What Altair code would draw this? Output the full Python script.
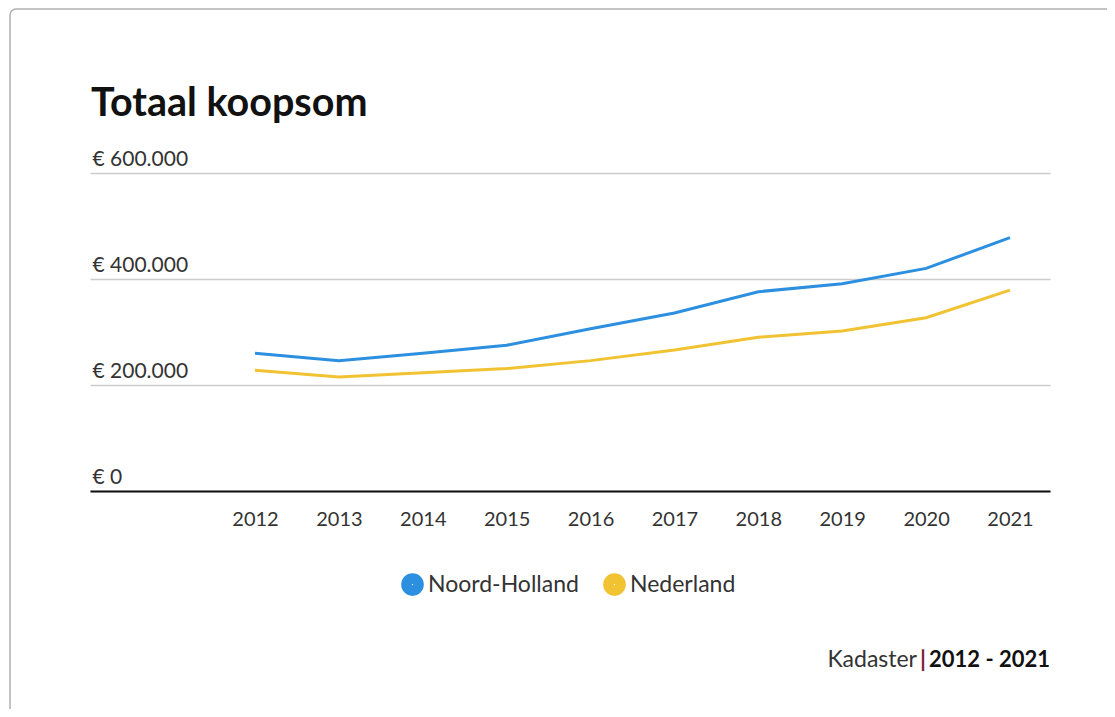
import altair as alt
import pandas as pd

years = [2012, 2013, 2014, 2015, 2016, 2017, 2018, 2019, 2020, 2021]
noord_holland = [260000, 246000, 260000, 275000, 306000, 336000, 376000, 391000, 420000, 478000]
nederland = [228000, 215000, 223000, 231000, 246000, 266000, 290000, 302000, 327000, 379000]
series = ["Noord-Holland", "Nederland"]
colors = ["#2c8fe0", "#f1c232"]
y_ticks = [0, 200000, 400000, 600000]

rows = []
for name, vals in zip(series, [noord_holland, nederland]):
    for yr, v in zip(years, vals):
        rows.append({"jaar": yr, "koopsom": v, "regio": name})
df = pd.DataFrame(rows)

FONT = "Lato"
W, H = 960, 318

base = alt.Chart(df)

lines = base.mark_line(strokeWidth=3, clip=False).encode(
    x=alt.X(
        "jaar:Q",
        scale=alt.Scale(domain=[2010.033, 2021.477], nice=False, zero=False),
        axis=alt.Axis(
            values=years, format="d", title=None, grid=False, ticks=False,
            domain=True, domainColor="#111", domainWidth=2,
            labelFont=FONT, labelFontSize=20, labelColor="#333", labelPadding=18,
        ),
    ),
    y=alt.Y(
        "koopsom:Q",
        scale=alt.Scale(domain=[0, 600000], nice=False),
        axis=alt.Axis(
            values=y_ticks, title=None, domain=False, ticks=False, grid=True,
            gridColor="#cccccc", gridWidth=1.5,
            labelExpr="'€ ' + replace(format(datum.value, ',d'), /,/g, '.')",
            labelAlign="left", labelBaseline="bottom", labelPadding=-2,
            labelOffset=-4, labelFont=FONT, labelFontSize=21, labelColor="#333",
        ),
    ),
    color=alt.Color(
        "regio:N",
        scale=alt.Scale(domain=series, range=colors),
        legend=alt.Legend(
            title=None, orient="none", legendX=311, legendY=400, direction="horizontal",
            symbolType="circle", symbolSize=113.1, symbolStrokeWidth=12,
            labelFont=FONT, labelFontSize=23, labelColor="#333",
            labelOffset=4, columnPadding=6,
        ),
    ),
)

title = alt.Chart(pd.DataFrame({"t": ["Totaal koopsom"]})).mark_text(
    align="left", baseline="alphabetic", font=FONT, fontSize=39.5, fontWeight="bold", color="#111"
).encode(x=alt.value(1), y=alt.value(-57), text="t:N")

src = pd.DataFrame({"t": ["Kadaster"]})
source_norm = alt.Chart(src).mark_text(
    align="right", baseline="alphabetic", font=FONT, fontSize=23, color="#333"
).encode(x=alt.value(W - 133), y=alt.value(494), text="t:N")
source_bar = alt.Chart(pd.DataFrame({"t": ["|"]})).mark_text(
    align="center", baseline="alphabetic", font=FONT, fontSize=23, fontWeight="bold", color="#7a1f3d"
).encode(x=alt.value(W - 127), y=alt.value(494), text="t:N")
source_bold = alt.Chart(pd.DataFrame({"t": ["2012 - 2021"]})).mark_text(
    align="right", baseline="alphabetic", font=FONT, fontSize=22, fontWeight="bold", color="#111"
).encode(x=alt.value(W), y=alt.value(494), text="t:N")

card = alt.Chart(pd.DataFrame({"c": [1]})).mark_rect(
    fill="transparent", stroke="#b0b0b0", strokeWidth=1.5, cornerRadius=6, clip=False
).encode(x=alt.value(-80), x2=alt.value(1100), y=alt.value(-164), y2=alt.value(700))

chart = alt.layer(card, lines, title, source_norm, source_bar, source_bold).properties(
    width=W, height=H,
    background="white",
    autosize=alt.AutoSizeParams(type="none"),
    padding={"left": 82, "top": 165, "right": 57, "bottom": 218},
).configure_view(stroke=None)

chart.save("out.html", embed_options={"renderer": "svg", "actions": False})
